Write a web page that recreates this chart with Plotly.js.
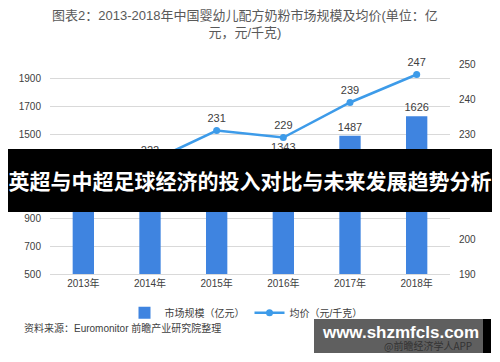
<!DOCTYPE html>
<html><head><meta charset="utf-8">
<script src="https://cdn.plot.ly/plotly-3.0.1.min.js"></script>
<style>
html,body{margin:0;padding:0;background:#fff;}
#wrap{position:relative;width:500px;height:362px;overflow:hidden;}
#chart{position:absolute;left:0;top:0;width:500px;height:362px;}
.banner{position:absolute;left:8px;top:149px;width:484px;height:63px;background:#000;}
.banner .mid{position:absolute;left:7px;top:0;width:468px;height:63px;background:rgba(0,0,0,0.6);}
.banner .txt{position:absolute;left:0;top:0;width:484px;height:63px;line-height:63px;text-align:center;color:#fff;font-family:"Noto Sans CJK SC",sans-serif;font-weight:bold;font-size:21px;white-space:nowrap;}
.wm{position:absolute;left:314px;top:319px;width:177px;height:34px;background:#000;}
.wm .mid{position:absolute;left:0;top:0;width:169px;height:34px;background:#5f5f5f;}
.wm .small{position:absolute;left:70px;top:21px;font-family:"Noto Sans CJK SC",sans-serif;font-size:10px;color:#333;white-space:nowrap;line-height:12px;}
.wm .big{position:absolute;left:0;top:3px;width:174px;text-align:center;font-family:"Liberation Sans",sans-serif;font-weight:bold;font-size:17px;color:#fff;white-space:nowrap;line-height:22px;}
</style></head>
<body>
<div id="wrap">
<div id="chart"></div>
<div class="banner"><div class="mid"></div><div class="txt">英超与中超足球经济的投入对比与未来发展趋势分析</div></div>
<div class="wm"><div class="mid"></div><div class="small">@前瞻经济学人APP</div><div class="big">www.shzmfcls.com</div></div>
</div>
<script>
var years = ["2013年","2014年","2015年","2016年","2017年","2018年"];
var marketSize = [1012, 1187, 1288, 1343, 1487, 1626];
var avgPrice = [215, 222, 231, 229, 239, 247];
var titleText = "图表2：2013-2018年中国婴幼儿配方奶粉市场规模及均价(单位：亿<br>元，元/千克)";
var sourceText = "资料来源：Euromonitor 前瞻产业研究院整理";

var FONT = '"Liberation Sans", "Noto Sans CJK SC", sans-serif';
var traces = [
  {
    type: 'bar', x: years, y: marketSize, name: '市场规模（亿元）',
    marker: {color: '#3f84e0'}, width: 0.32,
    text: marketSize.map(String), textposition: 'outside', cliponaxis: false, constraintext: 'none',
    textfont: {size: 11, color: '#404040', family: FONT}
  },
  {
    type: 'scatter', mode: 'lines+markers+text', x: years, y: avgPrice, yaxis: 'y2',
    name: '均价（元/千克）',
    line: {color: '#3d9be9', width: 2.5}, marker: {color: '#3d9be9', size: 7},
    text: avgPrice.map(String), textposition: 'top center', cliponaxis: false,
    textfont: {size: 11, color: '#404040', family: FONT}
  }
];
var layout = {
  width: 500, height: 362,
  margin: {l: 50, r: 50, t: 64, b: 88},
  paper_bgcolor: '#fff', plot_bgcolor: '#fff',
  font: {family: FONT, color: '#404040', size: 11},
  xaxis: {type: 'category', showgrid: false, showline: true, linecolor: '#d9d9d9',
          ticks: '', tickfont: {size: 10, color: '#404040'}, fixedrange: true},
  yaxis: {range: [500, 2000], tickvals: [500,700,900,1100,1300,1500,1700,1900],
          showgrid: true, gridcolor: '#d9d9d9', zeroline: false, showline: false,
          tickfont: {size: 10, color: '#404040'}, ticklen: 0, ticks: '', ticklabelstandoff: 8},
  yaxis2: {range: [190, 250], dtick: 10, overlaying: 'y', side: 'right', showgrid: false,
           zeroline: false, showline: false, tickfont: {size: 10, color: '#404040'}, ticks: '', ticklabelstandoff: 8},
  legend: {orientation: 'h', x: 0.49, xanchor: 'center', y: -0.185, yanchor: 'middle',
           font: {size: 10, color: '#404040', family: FONT}, bgcolor: 'rgba(0,0,0,0)'},
  annotations: [
    {text: titleText, xref: 'paper', yref: 'paper', x: 0.4875, xanchor: 'center',
     y: 1.19, yanchor: 'middle', showarrow: false, align: 'center',
     font: {size: 13, color: '#595959', family: FONT}},
    {text: sourceText, xref: 'paper', yref: 'paper', x: -0.07, xanchor: 'left',
     y: -0.257, yanchor: 'middle', showarrow: false,
     font: {size: 10, color: '#404040', family: FONT}}],
  showlegend: true
};
Plotly.newPlot('chart', traces, layout, {displayModeBar: false, staticPlot: true});
</script>
</body></html>
